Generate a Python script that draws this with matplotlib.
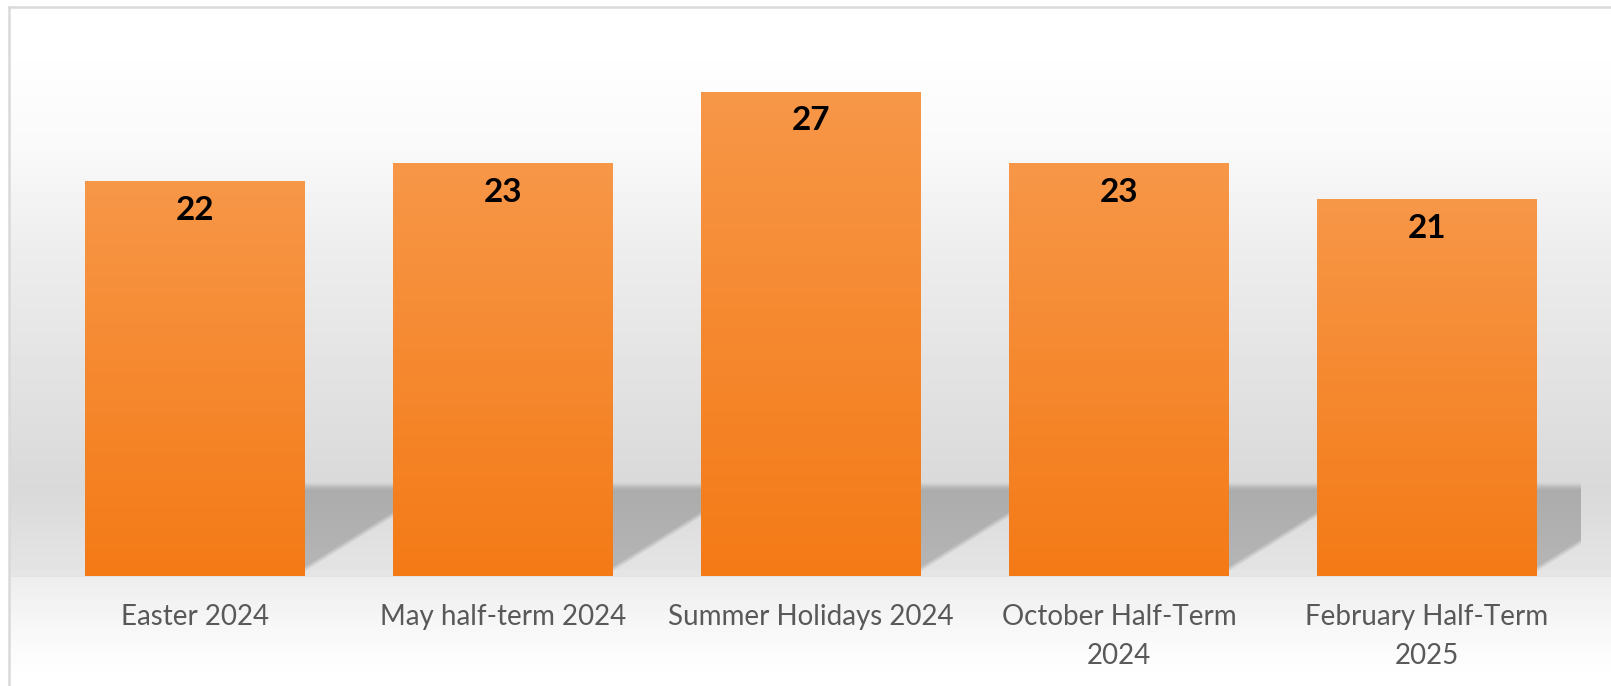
import numpy as np
import matplotlib
matplotlib.use('Agg')
import matplotlib.pyplot as plt
from matplotlib.lines import Line2D

categories = ["Easter 2024", "May half-term 2024", "Summer Holidays 2024",
              "October Half-Term\n2024", "February Half-Term\n2025"]
values = [22, 23, 27, 23, 21]

W, H = 1611, 686
fig = plt.figure(figsize=(W / 100, H / 100), dpi=100)

# ---- background gradient (whole figure) ----
bg = fig.add_axes([0, 0, 1, 1], zorder=0)
ys = np.arange(H)
stops_y = [0, 60, 150, 250, 486, 576, 577, 620, 650, 672, 686]
stops_v = [255, 254, 249, 237, 217, 229, 237, 246, 251, 254, 255]
col = np.interp(ys, stops_y, stops_v) / 255.0
img = np.repeat(col[:, None], W, axis=1)
img[:7, :] = 1.0
img[:, :9] = 1.0
bg.imshow(img, cmap='gray', vmin=0, vmax=1, aspect='auto',
          extent=(0, W, H, 0), interpolation='nearest')
bg.set_xlim(0, W)
bg.set_ylim(H, 0)
bg.axis('off')
bg.add_line(Line2D([9, W], [7, 7], color='#d9d9d9', lw=1.8))
bg.add_line(Line2D([9, 9], [7, H], color='#d9d9d9', lw=1.8))

# ---- main axes ----
ax_h_px = 537.6
ax = fig.add_axes([41 / W, 110 / H, 1540 / W, ax_h_px / H], zorder=1)
ax.set_facecolor('none')
x = np.arange(len(values))
bars = ax.bar(x, values, width=0.714, color='#f58a30', zorder=2)

# bar gradients
g = np.linspace(0, 1, 256)[:, None, None]
top_c = np.array([247, 151, 72]) / 255.0
bot_c = np.array([244, 122, 22]) / 255.0
gimg = top_c * (1 - g) + bot_c * g
for b in bars:
    x0, y0 = b.get_x(), b.get_y()
    w, h = b.get_width(), b.get_height()
    ax.imshow(gimg, extent=(x0, x0 + w, y0, y0 + h), aspect='auto',
              origin='upper', zorder=2.1, interpolation='bilinear')

# cast shadows behind bars
xlim = (-0.5, len(values) - 0.5)
ylim = (0, 30)
nx, ny = 1540, int(round(ax_h_px))
ppx = nx / (xlim[1] - xlim[0])
XX, YY = np.meshgrid(np.arange(nx) + 0.5, np.arange(ny) + 0.5)
mask = np.zeros_like(XX)
shadow_h = 90.0
slope = 0.62
offset = 7.0
top_fade = np.clip((shadow_h - YY) / 10.0 + 0.5, 0, 1)
top_fade = top_fade * top_fade * (3 - 2 * top_fade)
for b in bars:
    lpx = (b.get_x() - xlim[0]) * ppx
    rpx = (b.get_x() + b.get_width() - xlim[0]) * ppx
    diag = (YY - offset - slope * (XX - rpx)) / np.sqrt(1 + slope ** 2)
    diag_fade = np.clip(diag / 5.0 + 0.5, 0, 1)
    m = top_fade * diag_fade * (XX >= lpx)
    mask = np.maximum(mask, m)
gray = 0.675 + 0.04 * (1 - YY / shadow_h).clip(0, 1)
shadow = np.dstack([gray, gray, gray, mask])
ax.imshow(shadow, extent=(xlim[0], xlim[1], ylim[0], ylim[1]), origin='lower',
          aspect='auto', zorder=1.5, interpolation='bilinear')

ax.set_xlim(*xlim)
ax.set_ylim(*ylim)

# value labels
for xi, v in zip(x, values):
    ax.annotate(str(v), (xi, v), xytext=(0, -38), textcoords='offset pixels',
                ha='center', va='baseline', fontsize=24, fontweight='bold',
                family='Lato', color='black', zorder=3)

ax.set_xticks(x)
ax.set_xticklabels(categories, fontsize=20, family='Lato', color='#595959',
                   linespacing=1.65)
ax.tick_params(axis='x', length=0, pad=20)
ax.set_yticks([])
for s in ax.spines.values():
    s.set_visible(False)

fig.savefig('out.png', dpi=100)
